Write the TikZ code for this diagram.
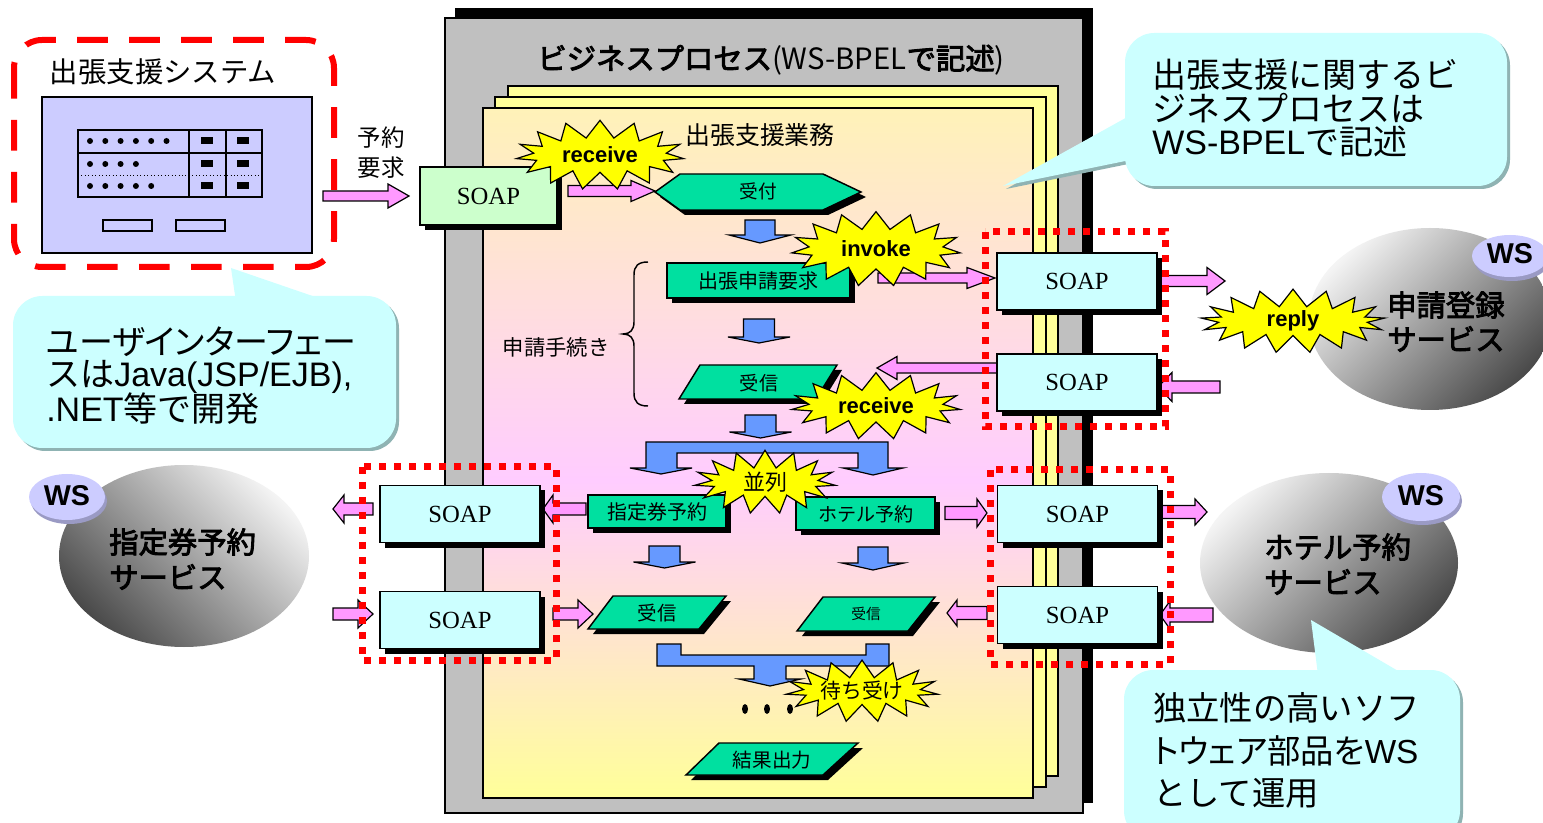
\documentclass[tikz,border=0pt]{standalone}
\usepackage{fontspec}
\setmainfont{Noto Sans CJK JP}
\newfontfamily\jpprop[RawFeature=+palt]{Noto Sans CJK JP}
\newfontfamily\jpbold[FakeBold=3]{Noto Sans CJK JP}
\newfontfamily\jpheavy[FakeBold=3]{Noto Sans CJK JP}
\newfontfamily\arialish{Liberation Sans}
\newfontfamily\timesish{Liberation Serif}
\usetikzlibrary{shapes.symbols,shadows}

\newcommand\fsz[1]{\fontsize{#1}{#1}\selectfont}

\definecolor{pinkA}{HTML}{FF99FF}
\definecolor{blueA}{HTML}{6699FF}
\definecolor{tealA}{HTML}{00E0A0}
\definecolor{lav}{HTML}{CCCCFF}
\definecolor{lavsh}{HTML}{9A9AC4}
\definecolor{callout}{HTML}{CCFFFF}
\definecolor{calloutsh}{HTML}{8FB3B3}
\definecolor{soapgreen}{HTML}{CCFFCC}
\definecolor{soapcyan}{HTML}{CCFFFF}
\definecolor{panel}{HTML}{C0C0C0}
\definecolor{pageY}{HTML}{FFFF99}
\definecolor{pageTop}{HTML}{FFF2B8}
\definecolor{pagePink}{HTML}{FFCCFF}
\definecolor{redD}{HTML}{FF0000}
\definecolor{burst}{HTML}{FFFF00}
\definecolor{ballLight}{HTML}{F4F4F4}
\definecolor{ballDark}{HTML}{4A4A4A}

% front page colour run: yellow at the bottom, pink in the middle, cream at the top
\pgfdeclareverticalshading{pagegrad}{100bp}{color(0bp)=(pageY); color(25bp)=(pageY); color(48bp)=(pagePink); color(75bp)=(pageTop); color(100bp)=(pageTop)}

\tikzset{
  blackshadow/.style={general shadow={fill=black, shadow xshift=3.75pt, shadow yshift=-3.75pt}},
  soapbox/.style={draw=black, line width=1.1pt, fill=soapcyan, minimum width=120pt, minimum height=42.75pt, inner sep=0pt, font=\timesish\fsz{18.5}, blackshadow},
  stepbox/.style={draw=black, line width=1.1pt, fill=tealA, inner sep=0pt, blackshadow},
  stepfill/.style={draw=black, line width=1.1pt, fill=tealA},
  label/.style={inner sep=0pt},
  pinkarr/.style={draw=black, line width=0.9pt, fill=pinkA},
  bluearr/.style={draw=black, line width=0.9pt, fill=blueA},
  boom/.style={starburst, starburst points=15, starburst point height=13pt, random starburst=0, draw=black, line width=0.9pt, fill=burst, inner sep=0pt, font=\arialish\bfseries\fsz{16.5}},
  reddots/.style={draw=redD, line width=5.25pt, dash pattern=on 5.25pt off 6pt},
  wstext/.style={inner sep=0pt, font=\arialish\bfseries\fsz{21.5}},
  svctext/.style={inner sep=0pt, anchor=west, font=\jpheavy\fsz{22}},
  calltext/.style={inner sep=0pt, anchor=west, font=\fsz{25.5}},
}

% horizontal block arrow: tail x, head base x, tip x, centre y, shaft half, head half
\newcommand\pinkarrow[6]{%
  \draw[pinkarr] ({#1},{#4-#5}) -- ({#2},{#4-#5}) -- ({#2},{#4-#6}) -- ({#3},{#4})
    -- ({#2},{#4+#6}) -- ({#2},{#4+#5}) -- ({#1},{#4+#5}) -- cycle;}
% downward block arrow: centre x, top y, head base y, tip y, shaft half, head half
\newcommand\bluedown[6]{%
  \draw[bluearr] ({#1-#5},{#2}) -- ({#1+#5},{#2}) -- ({#1+#5},{#3}) -- ({#1+#6},{#3})
    -- ({#1},{#4}) -- ({#1-#6},{#3}) -- ({#1-#5},{#3}) -- cycle;}

\begin{document}
\begin{tikzpicture}[x=0.75pt,y=-0.75pt]
\useasboundingbox (0,0) rectangle (1543,823);
\fill[white] (0,0) rectangle (1543,823);

%---------------- client system ----------------
\draw[draw=redD, line width=4.5pt, dash pattern=on 23pt off 16pt, rounded corners=21pt]
  (14,40) rectangle (334,267);
\node[label, font=\fsz{21.3}] (systitle) at (163,72) {出張支援システム};
\draw[fill=lav, line width=0.9pt] (42,97) rectangle (312,253);
\draw[line width=0.9pt] (78,130) rectangle (262,197);
\draw[line width=0.9pt] (189,130) -- (189,197) (226,130) -- (226,197) (78,153) -- (262,153);
\draw[line width=0.6pt, dotted] (78,175) -- (262,175);
\foreach \x in {90,105.3,120.6,135.9,151.2,166.5} \fill (\x,141) circle (3);
\foreach \x in {90,105.3,120.6,135.9} \fill (\x,164) circle (3);
\foreach \x in {90,105.3,120.6,135.9,151.2} \fill (\x,186) circle (3);
\foreach \y in {141,164,186} {
  \fill (201,{\y-3.5}) rectangle (213,{\y+3.5});
  \fill (237,{\y-3.5}) rectangle (249,{\y+3.5});
}
\draw[line width=0.9pt] (103,220) rectangle (152,231);
\draw[line width=0.9pt] (176,220) rectangle (225,231);

\node[label, font=\fsz{17.6}] (req1) at (381,138) {予約};
\node[label, font=\fsz{17.6}] (req2) at (381,168) {要求};

%---------------- process panel ----------------
\fill[black] (455,8) rectangle (1093,803);
\draw[fill=panel, line width=0.9pt] (445,18) rectangle (1083,813);
\node[label, font=\fsz{22}] (ptitle) at (771,60)
  {{\jpbold ビジネスプロセス}(WS-BPEL{\jpbold で記述})};

\draw[fill=pageY, line width=1pt] (508,86) rectangle (1058,776);
\draw[fill=pageY, line width=1pt] (495,97) rectangle (1046,787);
\shade[shading=pagegrad] (483,108) rectangle (1033,798);
\draw[line width=1pt] (483,108) rectangle (1033,798);

\node[label, font=\fsz{18.7}] (task) at (760,135) {出張支援業務};

%---------------- pink message arrows ----------------
\pinkarrow{323}{388}{409}{196}{5}{12}
\pinkarrow{568}{631}{655}{191}{5.5}{10.5}
\pinkarrow{878}{967}{995}{278}{5}{10.5}
\pinkarrow{997}{897}{877}{368}{5}{11.5}
\pinkarrow{1160}{1207}{1225}{281}{5.5}{13.5}
\pinkarrow{1220}{1172}{1158}{387}{6}{14.5}
\pinkarrow{586}{553}{543}{509}{6}{14}
\pinkarrow{373}{344}{333}{509}{6}{14}
\pinkarrow{333}{358}{373}{614}{6}{14}
\pinkarrow{553}{578}{593}{614}{6}{14}
\pinkarrow{945}{977}{987}{513}{6.5}{14}
\pinkarrow{1161}{1195}{1207}{512}{6.5}{13}
\pinkarrow{1213}{1170}{1160}{615}{7}{14}
\pinkarrow{987}{957}{947}{613}{6.5}{13}

%---------------- SOAP endpoints ----------------
\node[soapbox, fill=soapgreen, minimum width=102.75pt, minimum height=43.5pt] (soapIn) at (488.5,196) {SOAP};
\node[soapbox] (soapR1) at (1077,281.5) {SOAP};
\node[soapbox] (soapR2) at (1077,382.5) {SOAP};
\node[soapbox] (soapR3) at (1077.5,514) {SOAP};
\node[soapbox] (soapR4) at (1077.5,615) {SOAP};
\node[soapbox] (soapL1) at (460,514) {SOAP};
\node[soapbox] (soapL2) at (460,620) {SOAP};

%---------------- flow steps ----------------
\fill[black, shift={(5,5)}] (655,192) -- (680,174) -- (823,174) -- (861,192) -- (823,210) -- (680,210) -- cycle;
\draw[stepfill] (655,192) -- (680,174) -- (823,174) -- (861,192) -- (823,210) -- (680,210) -- cycle;
\node[label, font=\fsz{14}] (accept) at (758,191) {受付};

\bluedown{760}{220}{235}{243}{15}{31}

\node[stepbox, minimum width=137.25pt, minimum height=26.25pt] (apply) at (758.5,280.5) {};
\node[label, font=\fsz{15}] (applyt) at (758.5,281) {出張申請要求};

\bluedown{759}{319}{337}{343}{15.5}{31}

\fill[black, shift={(5,5)}] (679,399) -- (700,365) -- (837,365) -- (816,399) -- cycle;
\draw[stepfill] (679,399) -- (700,365) -- (837,365) -- (816,399) -- cycle;
\node[label, font=\fsz{14.4}] (recv1) at (759,383) {受信};

\draw[line width=1.1pt] (648,262) .. controls (638,262) and (634,266) .. (634,275) -- (634,322)
  .. controls (634,330) and (630,334) .. (623,334) .. controls (630,334) and (634,338) .. (634,346)
  -- (634,393) .. controls (634,402) and (638,406) .. (648,406);
\node[label, font=\fsz{16}] (proc) at (556,347) {申請手続き};

\bluedown{760.5}{415}{432}{438}{15.5}{31}

% fork bar
\draw[bluearr] (646,442) -- (888,442) -- (888,468) -- (903,468) -- (873,475) -- (843,468) -- (858,468)
  -- (858,453) -- (677,453) -- (677,468) -- (692,468) -- (661,474) -- (630,468) -- (646,468) -- cycle;

\node[stepbox, minimum width=103.5pt, minimum height=24.75pt] (ticket) at (657,511.5) {};
\node[label, font=\fsz{15}] (tickett) at (657,512) {指定券予約};
\node[stepbox, minimum width=104.25pt, minimum height=24.75pt] (hotel) at (865.5,513.5) {};
\node[label, font=\fsz{14.3}] (hotelt) at (866,514) {ホテル予約};

\bluedown{664.5}{546}{562}{568}{15.5}{31}
\bluedown{873}{547}{563}{570}{15}{31}

\fill[black, shift={(5,5)}] (588,629) -- (613,596) -- (726,596) -- (699,629) -- cycle;
\draw[stepfill] (588,629) -- (613,596) -- (726,596) -- (699,629) -- cycle;
\node[label, font=\fsz{14.6}] (recvL) at (657,613) {受信};
\fill[black, shift={(5,5)}] (797,631) -- (823,597) -- (935,597) -- (908,631) -- cycle;
\draw[stepfill] (797,631) -- (823,597) -- (935,597) -- (908,631) -- cycle;
\node[label, font=\fsz{11}] (recvR) at (866,614) {受信};

% join bar
\draw[bluearr] (657,644) -- (681,644) -- (681,655) -- (866,655) -- (866,644) -- (889,644) -- (889,666)
  -- (786,666) -- (786,679) -- (801,679) -- (770,686) -- (739,679) -- (754,679) -- (754,666) -- (657,666) -- cycle;

\foreach \x in {745,767,790} \fill (\x,709) ellipse (3 and 5);

\fill[black, shift={(5,5)}] (686,775) -- (719,743) -- (858,743) -- (823,775) -- cycle;
\draw[stepfill] (686,775) -- (719,743) -- (858,743) -- (823,775) -- cycle;
\node[label, font=\fsz{14.7}] (result) at (772,760) {結果出力};

%---------------- services ----------------
\shade[top color=ballLight, bottom color=ballDark, shading angle=45] (1430,319) ellipse (121 and 91);
\fill[lavsh] (1512,260) ellipse (38 and 21);
\fill[lav] (1510,256) ellipse (38 and 21);
\node[wstext] (ws1) at (1510,254) {WS};
\node[svctext] (svc1a) at (1387,305) {申請登録};
\node[svctext] (svc1b) at (1387,339) {サービス};

\shade[top color=ballLight, bottom color=ballDark, shading angle=-45] (184,556) ellipse (125 and 91);
\fill[lavsh] (69,501) ellipse (38 and 23);
\fill[lav] (67,497) ellipse (38 and 23);
\node[wstext] (ws2) at (67,496) {WS};
\node[svctext] (svc2a) at (109,542) {指定券予約};
\node[svctext] (svc2b) at (109,577) {サービス};

\shade[top color=ballLight, bottom color=ballDark, shading angle=45] (1329,563) ellipse (129 and 90);
\fill[lavsh] (1423,501) ellipse (39 and 24);
\fill[lav] (1421,497) ellipse (39 and 24);
\node[wstext] (ws3) at (1421,496) {WS};
\node[svctext] (svc3a) at (1264,547) {ホテル予約};
\node[svctext] (svc3b) at (1264,582) {サービス};

%---------------- activity markers ----------------
\node[boom, minimum width=126pt, minimum height=52pt] (bRecv) at (600,155) {receive};
\node[boom, minimum width=127pt, minimum height=56pt] (bInvoke) at (876,249) {invoke};
\node[boom, minimum width=127pt, minimum height=50pt] (bRecv2) at (876,406) {receive};
\node[boom, minimum width=138pt, minimum height=42pt, starburst points=17] (bReply) at (1293,321) {reply};
\node[boom, minimum width=106pt, minimum height=44pt, font=\fsz{16.5}] (bPar) at (765,482) {並列};
\node[boom, minimum width=106pt, minimum height=43pt, font=\fsz{15.6}] (bWait) at (862,691) {待ち受け};

%---------------- partner link groups ----------------
\draw[reddots] (985,232) rectangle (1165,427);
\draw[reddots] (990,470) rectangle (1170,664);
\draw[reddots] (362,467) rectangle (556,660);

%---------------- notes ----------------
\begin{scope}[shift={(3,3)}]
  \fill[calloutsh, rounded corners=22pt] (13,296) rectangle (396,448);
  \fill[calloutsh] (231,268) -- (236,302) -- (330,302) -- cycle;
  \fill[calloutsh, rounded corners=22pt] (1125,33) rectangle (1507,186);
  \fill[calloutsh] (1003,186) -- (1140,110) -- (1140,158) -- cycle;
  \fill[calloutsh, rounded corners=22pt] (1124,670) rectangle (1460,840);
  \fill[calloutsh] (1311,620) -- (1318,675) -- (1405,675) -- cycle;
\end{scope}
\fill[callout, rounded corners=22pt] (13,296) rectangle (396,448);
\fill[callout] (231,268) -- (236,302) -- (330,302) -- cycle;
\fill[callout, rounded corners=22pt] (1125,33) rectangle (1507,186);
\fill[callout] (1003,186) -- (1140,110) -- (1140,158) -- cycle;
\fill[callout, rounded corners=22pt] (1124,670) rectangle (1460,840);
\fill[callout] (1311,620) -- (1318,675) -- (1405,675) -- cycle;

\node[calltext, font=\jpprop\fsz{25.5}] (n1a) at (46,342) {ユーザインターフェー};
\node[calltext] (n1b) at (46,377) {ス{\jpprop は}{\arialish Java(JSP/EJB),}};
\node[calltext] (n1c) at (46,409) {{\arialish .NET}等で開発};

\node[calltext] (n2a) at (1152,75) {出張支援に関するビ};
\node[calltext] (n2b) at (1152,108) {ジネスプロセスは};
\node[calltext] (n2c) at (1152,141) {{\arialish WS-BPEL}で記述};

\node[calltext, font=\fsz{25}] (n3a) at (1153,708) {独立性の高いソフ};
\node[calltext, font=\jpprop\fsz{25}] (n3b) at (1153,751) {トウェア部品を{\arialish WS}};
\node[calltext, font=\fsz{25}] (n3c) at (1153,793) {として運用};
\end{tikzpicture}
\end{document}
